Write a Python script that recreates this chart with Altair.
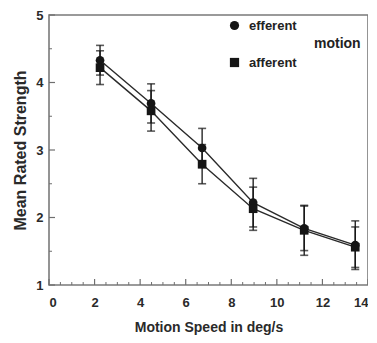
import altair as alt
import pandas as pd

# ---- data ----
speed = [2.24, 4.48, 6.72, 8.96, 11.2, 13.44]
series_names = ["efferent", "afferent"]
efferent_mean = [4.33, 3.69, 3.03, 2.22, 1.84, 1.59]
efferent_err = [0.22, 0.29, 0.29, 0.36, 0.33, 0.36]
afferent_mean = [4.22, 3.58, 2.79, 2.13, 1.81, 1.56]
afferent_err = [0.25, 0.30, 0.29, 0.32, 0.37, 0.30]

x_ticks_major = [0, 2, 4, 6, 8, 10, 12, 14]
x_ticks_minor = [1, 3, 5, 7, 9, 11, 13] + [0.5, 1.5, 2.5, 3.5, 4.5, 5.5, 6.5, 7.5, 8.5, 9.5, 10.5, 11.5, 12.5, 13.5]
y_ticks_major = [1, 2, 3, 4, 5]
y_ticks_minor = [1.5, 2.5, 3.5, 4.5]

rows = []
for name, means, errs in [("efferent", efferent_mean, efferent_err),
                          ("afferent", afferent_mean, afferent_err)]:
    for s, m, e in zip(speed, means, errs):
        rows.append({"speed": s, "series": name, "mean": m, "lo": m - e, "hi": m + e})
df = pd.DataFrame(rows)

W, H = 319, 270
FONT = "Liberation Sans"
INK = "#151515"

xs = alt.Scale(domain=[0, 14], nice=False, zero=False)
ys = alt.Scale(domain=[1, 5], nice=False, zero=False)
x_axis = alt.Axis(values=x_ticks_major, title="Motion Speed in deg/s",
                  labelPadding=11, titlePadding=11, format="d", titleFontSize=14)
y_axis = alt.Axis(values=y_ticks_major, title="Mean Rated Strength",
                  labelPadding=6, titlePadding=7, format="d", titleFontSize=16)


def X(field):
    return alt.X(field, scale=xs, axis=x_axis, title="Motion Speed in deg/s")


def Y(field):
    return alt.Y(field, scale=ys, axis=y_axis, title="Mean Rated Strength")


base = alt.Chart(df)

lines = base.mark_line(color="#2a2a2a", strokeWidth=1.4).encode(
    x=X("speed:Q"), y=Y("mean:Q"), detail="series:N")

bars = base.mark_rule(color=INK, strokeWidth=1.3).encode(
    x=X("speed:Q"), y=Y("lo:Q"), y2="hi:Q")

caps_hi = base.mark_tick(orient="horizontal", size=8, thickness=1.6, color=INK).encode(
    x=X("speed:Q"), y=Y("hi:Q"))
caps_lo = base.mark_tick(orient="horizontal", size=8, thickness=1.6, color=INK).encode(
    x=X("speed:Q"), y=Y("lo:Q"))

points = base.mark_point(filled=True, opacity=1, color=INK, size=75).encode(
    x=X("speed:Q"), y=Y("mean:Q"),
    shape=alt.Shape("series:N",
                    scale=alt.Scale(domain=series_names, range=["circle", "square"]),
                    legend=alt.Legend(title="motion", orient="none",
                                      legendX=179, legendY=4,
                                      titleOrient="right",
                                      titleAnchor="middle", titleBaseline="middle",
                                      titlePadding=17, rowPadding=23, labelOffset=8,
                                      symbolSize=85, symbolFillColor=INK,
                                      symbolStrokeColor=INK, symbolStrokeWidth=0,
                                      labelFont=FONT, labelFontSize=13,
                                      labelFontWeight="bold", labelColor="#222",
                                      titleFont=FONT, titleFontSize=14,
                                      titleFontWeight="bold", titleColor="#222",
                                      padding=0)))

TICK = "#6f6f6f"
xmaj = alt.Chart(pd.DataFrame({"v": x_ticks_major})).mark_rule(color=TICK, strokeWidth=1.2).encode(
    x=X("v:Q"), y=alt.value(H), y2=alt.value(H - 6))
xmin = alt.Chart(pd.DataFrame({"v": x_ticks_minor})).mark_rule(color=TICK, strokeWidth=1).encode(
    x=X("v:Q"), y=alt.value(H), y2=alt.value(H - 3))
ymaj = alt.Chart(pd.DataFrame({"v": y_ticks_major})).mark_rule(color=TICK, strokeWidth=1.2).encode(
    y=Y("v:Q"), x=alt.value(0), x2=alt.value(6))
ymin = alt.Chart(pd.DataFrame({"v": y_ticks_minor})).mark_rule(color=TICK, strokeWidth=1).encode(
    y=Y("v:Q"), x=alt.value(0), x2=alt.value(3))

chart = alt.layer(lines, xmaj, xmin, ymaj, ymin, bars, caps_hi, caps_lo, points).properties(
    width=W, height=H,
    autosize=alt.AutoSizeParams(type="none"),
    padding={"left": 41, "top": 7, "right": 0, "bottom": 50},
    background="white",
).configure_view(
    stroke="#7a7a7a", strokeWidth=1.6
).configure_axis(
    ticks=False, domain=False, grid=False,
    labelFont=FONT, labelFontSize=13, labelFontWeight="bold", labelColor="#2a2a2a",
    titleFont=FONT, titleFontWeight="bold", titleColor="#2a2a2a",
)

chart.save("out.html", embed_options={"renderer": "svg", "actions": False})
